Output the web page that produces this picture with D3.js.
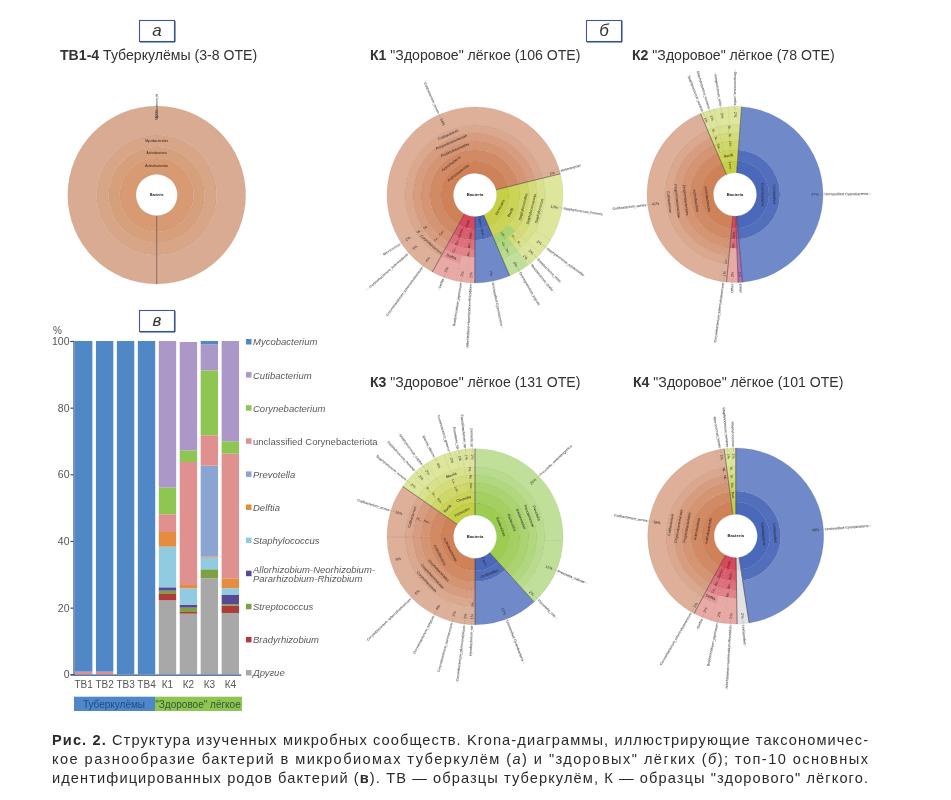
<!DOCTYPE html>
<html><head><meta charset="utf-8">
<script src="https://cdn.jsdelivr.net/npm/d3@7/dist/d3.min.js"></script>
<style>html,body{margin:0;padding:0;background:#fff}svg{display:block;filter:blur(0.35px)}text{font-family:"Liberation Sans",Arial,sans-serif}</style>
</head><body><svg id="c" width="951" height="800"></svg>
<script>
// ---------- bar chart data ----------
const samples=["ТВ1","ТВ2","ТВ3","ТВ4","К1","К2","К3","К4"];
const genera=["Другие","Bradyrhizobium","Streptococcus","Allorhizobium","Staphylococcus","Delftia","Prevotella","unclassified Corynebacteriota","Corynebacterium","Cutibacterium","Mycobacterium"];
const generaColors=["#a8a8a8","#b03a36","#7f9f45","#574a94","#90cbe2","#e58c3e","#8ba5d2","#e0908f","#8fc653","#ab98c9","#4f87c7"];
const others=[0,0,0,0,22.2,18.2,28.8,18.4];
const bradyrhizobium=[0,0,0,0,1.9,0.5,0,2.2];
const streptococcus=[0,0,0,0,1,1.3,2.7,0.4];
const allorhizobium=[0,0,0,0,1,0.9,0,2.9];
const staphylococcus=[0,0,0,0,12.2,4.9,3.5,1.9];
const delftia=[0,0,0,0,4.4,1,0.3,3];
const prevotella=[0,0,0,0,0,0,27.3,0];
const unclassified=[0.8,0.8,0,0,5.3,36.9,9.1,37.4];
const corynebacterium=[0,0,0,0,8,3.5,19.5,3.7];
const cutibacterium=[0,0,0,0,44,32.5,7.8,30.1];
const mycobacterium=[99.2,99.2,100,100,0,0,1,0];
const barSeries=[others,bradyrhizobium,streptococcus,allorhizobium,staphylococcus,delftia,prevotella,unclassified,corynebacterium,cutibacterium,mycobacterium];
const yTicks=[0,20,40,60,80,100];
// legend, top to bottom
const legendNames=["Mycobacterium","Cutibacterium","Corynebacterium","unclassified Corynebacteriota","Prevotella","Delftia","Staphylococcus","Allorhizobium-Neorhizobium-|Pararhizobium-Rhizobium","Streptococcus","Bradyrhizobium","Другие"];
const legendColors=["#4f87c7","#ab98c9","#8fc653","#e0908f","#8ba5d2","#e58c3e","#90cbe2","#574a94","#7f9f45","#b03a36","#a8a8a8"];
const legendItalic=[1,1,1,0,1,1,1,1,1,1,1];

// ---------- Krona data ----------
const ACT="Actinobacteriota/Actinobacteria/",CUTI=ACT+"Propionibacteriales/Propionibacteriaceae/Cutibacterium/",CORY=ACT+"Corynebacteriales/Corynebacteriaceae/Corynebacterium/";
const MICRO=ACT+"Micrococcales/Micrococcaceae/Micrococcus/",ACTM=ACT+"Actinomycetales/Actinomycetaceae/Actinomyces/",MYCO=ACT+"Mycobacteriales/Mycobacteriaceae/Mycobacterium/";
const STAPH="Firmicutes/Bacilli/Staphylococcales/Staphylococcaceae/Staphylococcus/",STREP="Firmicutes/Bacilli/Lactobacillales/Streptococcaceae/Streptococcus/",DOLO="Firmicutes/Bacilli/Lactobacillales/Carnobacteriaceae/Dolosigranulum/";
const RHIZ="Proteobacteria/Alphaproteobacteria/Rhizobiales/Rhizobiaceae/";
const CYAN="Cyanobacteria/Unclassified/";
const PREV="Bacteroidota/Bacteroidia/Bacteroidales/Prevotellaceae/Prevotella/";

const tbPaths=["Actinobacteriota/Actinobacteria/Mycobacteriales/Mycobacterium_tb"];
const tbValues=[100];
const tbGroups=["a"];

const k1Paths=[CORY+"Corynebacterium_tuberculostearicum",CORY+"Corynebacterium_kefirresidentii",MICRO+"Micrococcus",CUTI+"Cutibacterium_acnes",ACTM+"Actinomyces",
 STAPH+"Staphylococcus_hominis",STAPH+"Staphylococcus_epidermidis",STREP+"Streptococcus_mitis",STREP+"Streptococcus_oralis",DOLO+"Dolosigranulum_pigrum",
 CYAN+"Unclassified Cyanobacteria",RHIZ+"Allorhizobium-Neorhizobium-Rhizobium",RHIZ+"Bradyrhizobium_japonicum","Proteobacteria/Gammaproteobacteria/Burkholderiales/Comamonadaceae/Delftia/Delftia"];
const k1Values=[4,3,1.5,53.5,1,12.5,3,2,1,3.9,6.5,1.5,2,4.5];
const k1Groups=["s","s","s","s","s","l","l","l","l","g","b","r","r","r"];

const k2Paths=[CYAN+"Unclassified Cyanobacteria","Bacteroidota/Bacteroidia/Other","Proteobacteria/Alphaproteobacteria/Rhizobiales/Other",CORY+"Corynebacterium_tuberculostearicum",CUTI+"Cutibacterium_acnes",
 STAPH+"Staphylococcus_aureus",STAPH+"Staphylococcus_hominis",STREP+"Streptococcus_mitis",STREP+"Streptococcus_oralis"];
const k2Values=[47.4,0.8,2.1,1.2,40.8,1,1.5,2.7,2.4];
const k2Groups=["b","p","r","s","s","l","l","l","l"];

const LACH="Firmicutes/Clostridia/Lachnospirales/Lachnospiraceae/Blautia/",OSCI="Firmicutes/Clostridia/Oscillospirales/Ruminococcaceae/Faecalibacterium/";
const k3Paths=[PREV+"Prevotella_melaninogenica",PREV+"Prevotella_salivae",PREV+"Prevotella_oris",
 CYAN+"Unclassified Cyanobacteria",
 MYCO+"Mycobacterium_sp",CORY+"Corynebacterium_glucuronolyticum",CORY+"Corynebacterium_aurimucosum",CORY+"Corynebacterium_striatum",CORY+"Corynebacterium_tuberculostearicum",CORY+" ",CUTI+"Cutibacterium_acnes",
 STAPH+"Staphylococcus_aureus",STAPH+"Staphylococcus_hominis",STAPH+"Staphylococcus_capitis",LACH+"Blautia_obeum",LACH+"Ruminococcus_gnavus",LACH+"Roseburia_sp",OSCI+"Faecalibacterium_sp",OSCI+"Gemella_sp"];
const k3Values=[25.8,10.8,1.6,11.7,1.2,1.5,3,3.9,6.4,8.9,9.7,2.6,1.9,1.5,3.6,2.1,1.2,1.4,1];
const k3Groups=["g","g","g","b","s","s","s","s","s","s","s","l","l","l","l","l","l","l","l"];

const k4Paths=[CYAN+"Unclassified Cyanobacteria","Other/Unclassified",RHIZ+"Allorhizobium-Neorhizobium-Rhizobium",RHIZ+"Bradyrhizobium_japonicum","Proteobacteria/Gammaproteobacteria/Burkholderiales/Comamonadaceae/Delftia/Delftia",
 CORY+"Corynebacterium_tuberculostearicum",CUTI+"Cutibacterium_acnes",MICRO+"Micrococcus_luteus",STAPH+"Staphylococcus_hominis",STAPH+"Staphylococcus"];
const k4Values=[47.6,2.2,2.4,2.4,3.3,1.1,37.6,1.4,1.25,0.85];
const k4Groups=["b","n","r","r","r","s","s","s","l","l"];

const ringBands=[21.7,34,45,54,62,70,88];
const tbBands=[20.7,37,48,60,89];
const kronaRotations=[180,209,4.3,0,0];

// inner and outer ring colours of every group
const groupInner={a:"#d79a72",s:"#cf8158",l:"#c6d045",g:"#9ccc52",b:"#4a69ba",r:"#d9475c",p:"#9a5aa8",n:"#d8d8d8"};
const groupOuter={a:"#d8ab92",s:"#deb09a",l:"#dde69b",g:"#c0e09a",b:"#7089c9",r:"#e9aaa6",p:"#b070b8",n:"#e2e2e2"};

// ---------- drawing ----------
const svg=d3.select("#c");
function buildTree(paths,values,groups){
  const root={name:"Bacteria",children:[]};
  paths.forEach((p,i)=>{
    let n=root;
    p.split("/").forEach((s,j,a)=>{
      let k=n.children&&n.children.find(c=>c.name===s);
      if(!k){k={name:s};if(j<a.length-1)k.children=[];else{k.value=values[i];k.group=groups[i];}n.children.push(k);}
      n=k;
    });
  });
  return root;
}
function krona(paths,values,groups,bands,rotation,cx,cy,opts){
  opts=opts||{};
  const g=svg.append("g").attr("transform",`translate(${cx},${cy})`);
  const root=d3.hierarchy(buildTree(paths,values,groups)).sum(d=>d.value||0);
  d3.partition().size([360,1])(root);
  const ang=d3.scaleLinear().domain([0,360]).range([rotation,rotation+360]);
  const rad=d=>d*Math.PI/180;
  const R=bands[bands.length-1];
  const maxD=bands.length-1;
  const arc=d3.arc();
  const nodes=root.descendants().filter(n=>n.depth>0);
  const grp=n=>{ if(n.data.group) return n.data.group; return n.leaves().slice().sort((a,b)=>b.value-a.value)[0].data.group; };
  const colr=(n)=>{ const gk=grp(n); const t=n.children?Math.min(1,(n.depth-1)/(maxD-1)):1; return d3.interpolateRgb(groupInner[gk],groupOuter[gk])(t); };
  const r0=n=>bands[n.depth-1];
  const r1=n=>n.children?bands[n.depth]:R;
  g.selectAll("path.w").data(nodes.slice().sort((a,b)=>a.depth-b.depth)).join("path").attr("class","w")
   .attr("d",n=>arc({innerRadius:r0(n),outerRadius:r1(n),startAngle:rad(ang(n.x0)),endAngle:rad(ang(n.x1))}))
   .attr("fill",colr).attr("stroke",n=>d3.color(colr(n)).darker(0.9)).attr("stroke-width",0.35).attr("stroke-opacity",opts.ring==null?0.5:opts.ring);
  // dark dividers between the main lineages
  const tops=root.children;
  g.selectAll("line.sep").data(tops).join("line").attr("class","sep")
   .attr("x1",n=>bands[0]*Math.sin(rad(ang(n.x0)))).attr("y1",n=>-bands[0]*Math.cos(rad(ang(n.x0))))
   .attr("x2",n=>R*Math.sin(rad(ang(n.x0)))).attr("y2",n=>-R*Math.cos(rad(ang(n.x0))))
   .attr("stroke","#4a3a4a").attr("stroke-width",0.7).attr("stroke-opacity",0.8);
  g.append("text").attr("text-anchor","middle").attr("dy","0.35em").attr("font-size",opts.center||4.2).attr("font-weight","bold").attr("fill","#222").text("Bacteria");
  const fs=opts.fs||3.6, cw=fs*0.5;
  const put=(txt,r,a,mode,size,fill)=>{
    const x=r*Math.sin(rad(a)),y=-r*Math.cos(rad(a));
    const na=((a%360)+360)%360;
    let rot,anchor;
    if(mode==="t"){ const up=na<90||na>270; rot=up?na:na-180; anchor="middle"; }
    else { const right=na<180; rot=right?na-90:na+90; anchor=right?"start":"end"; if(mode==="c")anchor="middle"; }
    g.append("text").attr("transform",`translate(${x},${y}) rotate(${rot})`).attr("text-anchor",anchor).attr("dy","0.35em")
     .attr("font-size",size).attr("fill",fill).text(txt);
  };
  nodes.forEach(n=>{
    const a=ang((n.x0+n.x1)/2), span=n.x1-n.x0;
    if(n.children){
      const rm=(r0(n)+r1(n))/2, arcLen=rad(span)*rm, w=n.data.name.length*cw;
      if(arcLen>w+1) put(n.data.name,rm,a,"t",fs,"#2a2020");
      else if(arcLen>fs*1.3){ const mx=Math.floor((r1(n)-r0(n)-1)/cw); const t=n.data.name.length>mx?n.data.name.slice(0,Math.max(1,mx-1))+"…":n.data.name; put(t,rm,a,"c",fs*0.9,"#2a2020"); }
    } else {
      const name=n.data.name.trim();
      const pct=Math.round(n.value)+"%";
      const inner=r0(n);
      const pr=Math.max(inner+(R-inner)*0.3,R-8);
      if(rad(span)*pr>fs*0.8) put(pct,pr,a,"c",fs*1.05,"#3a3030");
      if(!name) return;
      const sx=Math.sin(rad(a)),sy=-Math.cos(rad(a));
      const startR=R+(opts.gap==null?1.5:opts.gap), len=name.length*cw;
      g.append("line").attr("x1",(R-4)*sx).attr("y1",(R-4)*sy).attr("x2",(startR+len)*sx).attr("y2",(startR+len)*sy).attr("stroke","#8a8a8a").attr("stroke-width",0.3);
      put(name,startR,a,"r",fs,"#444");
    }
  });
}
krona(tbPaths,tbValues,tbGroups,tbBands,kronaRotations[0],156.7,195,{center:3.4,fs:3.2,gap:-14,ring:0.3});
krona(k1Paths,k1Values,k1Groups,ringBands,kronaRotations[1],475,195);
krona(k2Paths,k2Values,k2Groups,ringBands,kronaRotations[2],735,194.5);
krona(k3Paths,k3Values,k3Groups,ringBands,kronaRotations[3],475,536.7);
krona(k4Paths,k4Values,k4Groups,ringBands,kronaRotations[4],735.7,536);

// titles
const titleBold=["ТВ1-4","К1","К2","К3","К4"];
const titleRest=[" Туберкулёмы (3-8 ОТЕ)"," \"Здоровое\" лёгкое (106 ОТЕ)"," \"Здоровое\" лёгкое (78 ОТЕ)"," \"Здоровое\" лёгкое (131 ОТЕ)"," \"Здоровое\" лёгкое (101 ОТЕ)"];
[[60,60],[370,60],[632,60],[370,387],[633,387]].forEach((p,i)=>{
  const t=svg.append("text").attr("x",p[0]).attr("y",p[1]).attr("font-size",14.1).attr("fill","#333");
  t.append("tspan").attr("font-weight","bold").text(titleBold[i]);
  t.append("tspan").text(titleRest[i]);
});
// panel letters
[["а",139,20],["б",586,20],["в",139,310]].forEach(b=>{
  svg.append("rect").attr("x",b[1]+.5).attr("y",b[2]+.5).attr("width",35).attr("height",21).attr("fill","#fff").attr("stroke","#3e5a94").attr("stroke-width",1.1);
  svg.append("path").attr("d",`M${b[1]+1},${b[2]+22}H${b[1]+36}V${b[2]+1}`).attr("fill","none").attr("stroke","#2f4a86").attr("stroke-width",1);
  svg.append("text").attr("x",b[1]+18).attr("y",b[2]+15.5).attr("text-anchor","middle").attr("font-style","italic").attr("font-size",17).attr("fill","#333").text(b[0]);
});

// stacked bars
const x=d3.scaleBand().domain(samples).range([73.2,240.8]).paddingInner(0.17).paddingOuter(0.085);
const y=d3.scaleLinear().domain([0,100]).range([674.3,341]);
const rows=samples.map((s,i)=>{const o={s};genera.forEach((g,j)=>o[g]=barSeries[j][i]);return o;});
const stacked=d3.stack().keys(genera)(rows);
svg.append("g").selectAll("g").data(stacked).join("g").attr("fill",(d,i)=>generaColors[i])
  .selectAll("rect").data(d=>d).join("rect")
  .attr("x",d=>x(d.data.s)).attr("width",x.bandwidth()).attr("y",d=>y(d[1])).attr("height",d=>y(d[0])-y(d[1]));
const ya=svg.append("g").attr("transform","translate(73.5,0)").call(d3.axisLeft(y).tickValues(yTicks).tickSize(3).tickPadding(1));
ya.selectAll("text").attr("font-size",10.5).attr("fill","#555").attr("font-family","Liberation Sans");
ya.selectAll("line,path").attr("stroke","#2c4f88").attr("stroke-width",1.2);
const xa=svg.append("g").attr("transform","translate(0,674.6)").call(d3.axisBottom(x).tickSize(0).tickPadding(6));
xa.selectAll("text").attr("font-size",10).attr("fill","#555").attr("font-family","Liberation Sans");
xa.selectAll("path").attr("stroke","#2c4f88").attr("stroke-width",1.2);
svg.append("text").attr("x",53).attr("y",334).attr("font-size",10).attr("fill","#555").text("%");

// legend
const legendY=d3.scalePoint().domain(legendNames).range([342,673]);
legendNames.forEach((n,i)=>{
  const yy=legendY(n);
  svg.append("rect").attr("x",246).attr("y",yy-3).attr("width",5.5).attr("height",5.5).attr("fill",legendColors[i]);
  const parts=n.split("|");
  parts.forEach((p,j)=>{
    const ly=parts.length>1?yy-4.5+j*9.5+3.5:yy+3.4;
    svg.append("text").attr("x",253).attr("y",ly).attr("font-size",9.5).attr("font-style",legendItalic[i]?"italic":"normal").attr("fill","#5a5a5a").text(p);
  });
});

// group band
const bandLabels=["Туберкулёмы","\"Здоровое\" лёгкое"];
const bandColors=["#4f87c7","#8fc653"];
const bandText=["#1f4a90","#2a5a30"];
[[74,155],[155,242]].forEach((b,i)=>{
  svg.append("rect").attr("x",b[0]).attr("y",696.7).attr("width",b[1]-b[0]).attr("height",14.3).attr("fill",bandColors[i]);
  svg.append("text").attr("x",i?198:114).attr("y",707.5).attr("text-anchor","middle").attr("font-size",10).attr("fill",bandText[i]).text(bandLabels[i]);
});

// caption
const captionLines=[
 [["Рис. 2.","b"],[" Структура изученных микробных сообществ. Krona-диаграммы, иллюстрирующие таксономичес-",""]],
 [["кое разнообразие бактерий в микробиомах туберкулём (",""],["а","i"],[") и \"здоровых\" лёгких (",""],["б","i"],["); топ-10 основных",""]],
 [["идентифицированных родов бактерий (",""],["в","b"],["). ТВ — образцы туберкулём, К — образцы \"здорового\" лёгкого.",""]]
];
captionLines.forEach((l,i)=>{
  const t=svg.append("text").attr("x",52).attr("y",745+i*19).attr("font-size",14.6).attr("fill","#2a2a2a").attr("textLength",816).attr("lengthAdjust","spacing");
  l.forEach(s=>{const ts=t.append("tspan").text(s[0]); if(s[1]==="b")ts.attr("font-weight","bold"); if(s[1]==="i")ts.attr("font-style","italic");});
});
</script></body></html>
